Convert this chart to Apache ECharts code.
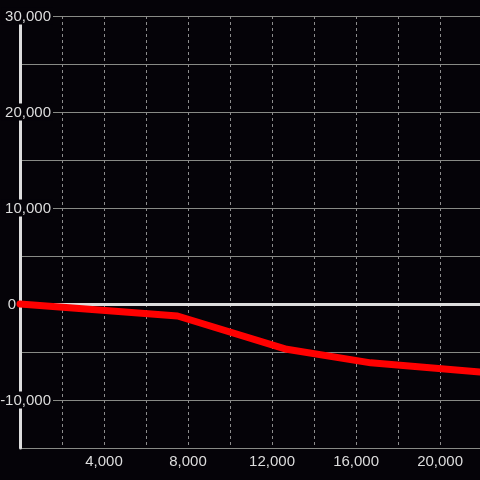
<!DOCTYPE html>
<html>
<head>
<meta charset="utf-8">
<script src="https://cdn.jsdelivr.net/npm/echarts@6/dist/echarts.min.js"></script>
<style>
  html, body { margin: 0; padding: 0; background: #050308; }
  #chart { width: 480px; height: 480px; }
</style>
</head>
<body>
<div id="chart"></div>
<script>
// x positions and values of the red line
const xValues = [0, 7500, 12700, 16700, 21900];
const yValues = [0, -1250, -4720, -6130, -7080];

// axis ranges / tick spacing
const xRange = [0, 21900];
const xStep = 2000;
const xLabelStep = 4000;
const yRange = [-15000, 30000];
const yStep = 5000;
const yLabelStep = 10000;

const bg = '#050308';
const gridColor = '#888a85';
const textColor = '#dddddd';
const fontFamily = '"Liberation Sans", Arial, sans-serif';

const fmt = v => v.toLocaleString('en-US');

const chart = echarts.init(document.getElementById('chart'));

chart.setOption({
    backgroundColor: bg,
    animation: false,
    grid: { left: 20, right: 0, top: 16, bottom: 32, containLabel: false, outerBoundsMode: 'none' },
    xAxis: {
        type: 'value',
        min: xRange[0],
        max: xRange[1],
        interval: xStep,
        axisLine: { show: false },
        axisTick: { show: false },
        axisLabel: {
            color: textColor,
            fontSize: 15,
            fontFamily: fontFamily,
            margin: 6,
            showMaxLabel: false,
            formatter: v => (v > 0 && v % xLabelStep === 0) ? fmt(v) : ''
        },
        splitLine: {
            show: true,
            lineStyle: { color: '#8c8c8c', type: [3, 3], width: 1 }
        }
    },
    yAxis: [
        {
            // grid lines only
            type: 'value',
            min: yRange[0],
            max: yRange[1],
            interval: yStep,
            z: 0,
            axisLine: { show: false },
            axisTick: { show: false },
            axisLabel: { show: false },
            splitLine: { show: true, lineStyle: { color: gridColor, width: 1 } }
        },
        {
            // axis line + labels, drawn above the grid lines
            type: 'value',
            position: 'left',
            min: yRange[0],
            max: yRange[1],
            interval: yStep,
            z: 3,
            axisLine: { show: true, onZero: false, lineStyle: { color: textColor, width: 3 } },
            axisTick: { show: false },
            splitLine: { show: false },
            axisLabel: {
                margin: -33,
                align: 'right',
                formatter: v => {
                    if (v === 0) return '{z|0}';
                    if (v % yLabelStep !== 0) return '';
                    return '{b|' + fmt(v) + '}';
                },
                rich: {
                    b: {
                        color: textColor, fontSize: 15, fontFamily: fontFamily,
                        backgroundColor: bg, padding: [2, 2, 0, 4]
                    },
                    z: {
                        color: textColor, fontSize: 15, fontFamily: fontFamily,
                        padding: [2, 37, 0, 0]
                    }
                }
            }
        }
    ],
    series: [
        {
            type: 'line',
            yAxisIndex: 1,
            z: 6,
            data: xValues.map((x, i) => [x, yValues[i]]),
            showSymbol: false,
            lineStyle: { color: '#ff0000', width: 7, cap: 'round', join: 'round' },
            markLine: {
                z: 4,
                silent: true,
                symbol: 'none',
                label: { show: false },
                lineStyle: { color: textColor, width: 3, type: 'solid' },
                data: [{ yAxis: 0 }]
            }
        }
    ]
});
</script>
</body>
</html>
